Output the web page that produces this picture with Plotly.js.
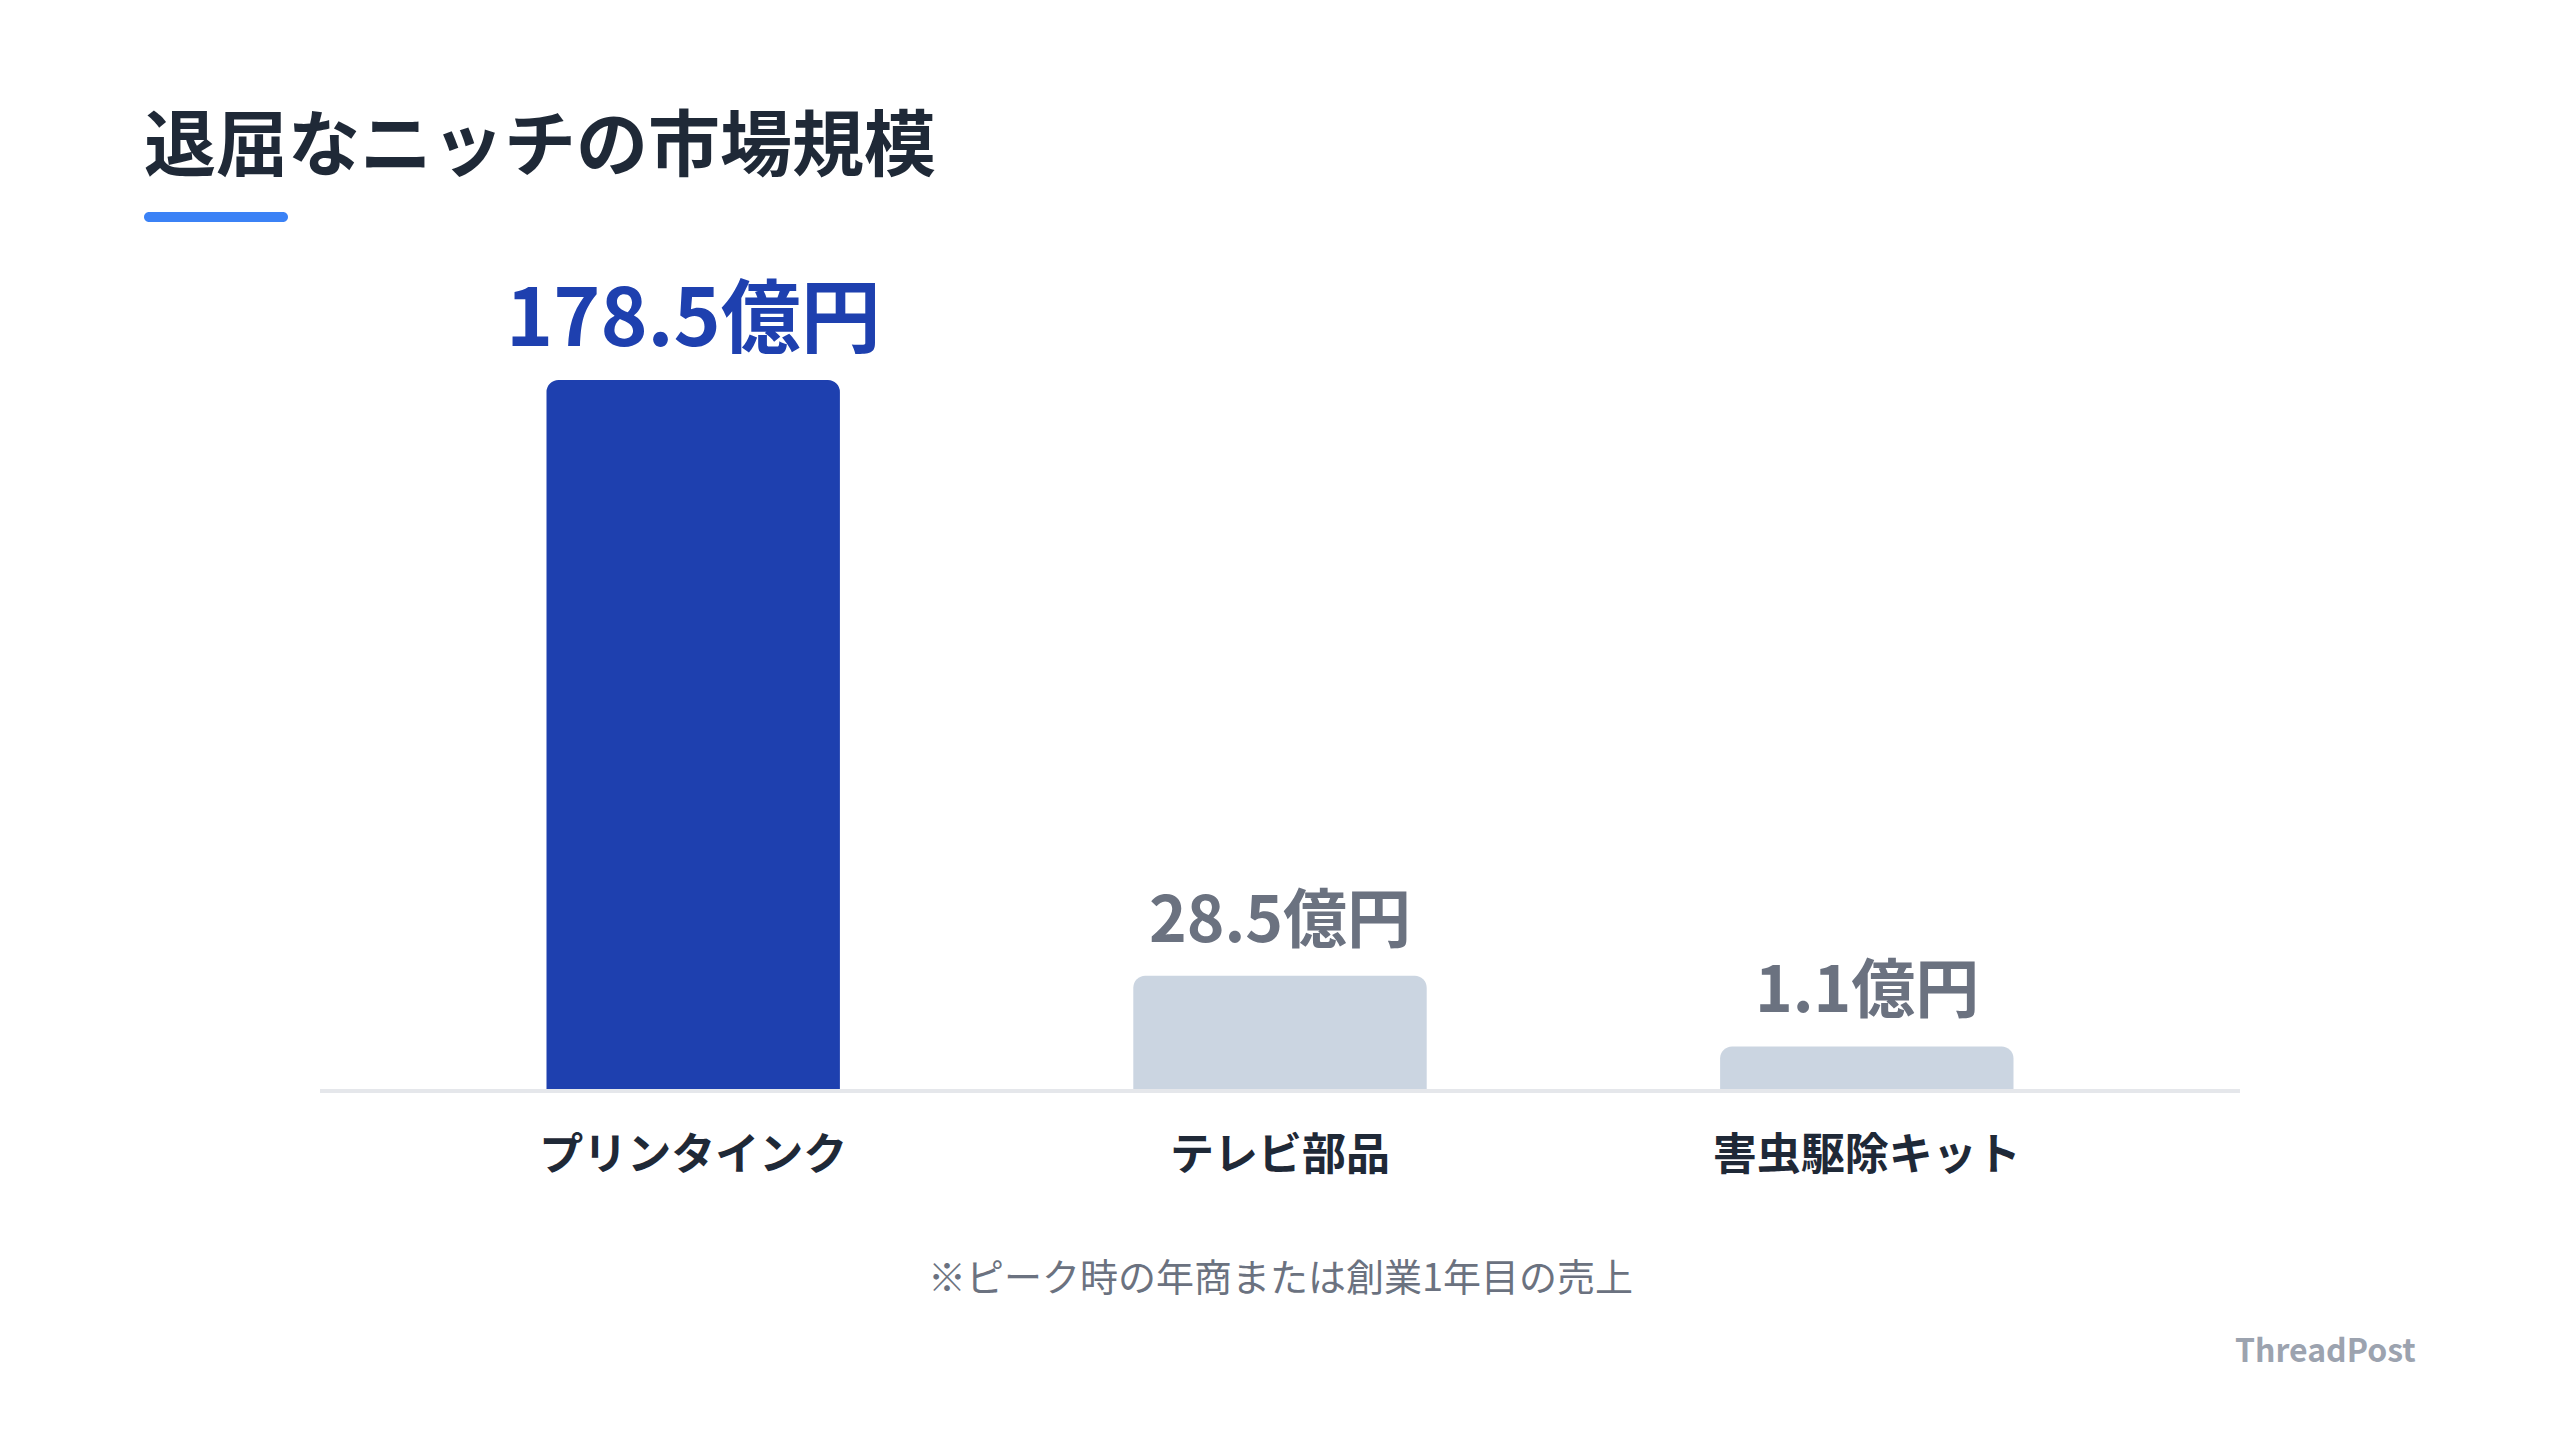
<!DOCTYPE html>
<html>
<head>
<meta charset="utf-8">
<script src="https://cdn.plot.ly/plotly-3.0.1.min.js"></script>
<style>
  html, body { margin: 0; padding: 0; background: #ffffff; }
  #chart { width: 2560px; height: 1440px; }
</style>
</head>
<body>
<div id="chart"></div>
<script>
// ---- data ----
const categories = ["プリンタインク", "テレビ部品", "害虫駆除キット"];
const values = [178.5, 28.5, 1.1];          // 億円
const valueLabels = ["178.5億円", "28.5億円", "1.1億円"];
const titleText = "退屈なニッチの市場規模";
const footnoteText = "※ピーク時の年商または創業1年目の売上";
const brandText = "ThreadPost";

// ---- style ----
const FONT = '"Noto Sans CJK JP", "Noto Sans", sans-serif';
const highlight = "#1e40af";
const muted = "#cbd5e1";
const W = 2560, H = 1440;
const M = {l: 320, r: 320, t: 380, b: 351};
const plotW = W - M.l - M.r, plotH = H - M.t - M.b;

const maxVal = Math.max(...values);
// small bars get a minimum visible height (labels keep true values)
const minVisible = maxVal * 0.06;
const shown = values.map(v => Math.max(v, minVisible));
const barColors = values.map(v => v === maxVal ? highlight : muted);

// helpers to place decorations by pixel position
const px2x = p => (p - M.l) / plotW;
const px2y = p => (H - M.b - p) / plotH;

const trace = {
  type: "bar",
  x: categories,
  y: shown,
  width: 0.5,
  marker: {color: barColors, cornerradius: 12, line: {width: 0}},
  hoverinfo: "skip",
  cliponaxis: false
};

const annotations = categories.map((c, i) => {
  const isMax = values[i] === maxVal;
  return {
    x: c, y: shown[i], xref: "x", yref: "y",
    text: valueLabels[i],
    showarrow: false,
    xanchor: "center", yanchor: "bottom",
    yshift: isMax ? 9 : 14,
    font: {family: FONT, size: isMax ? 80 : 64,
           color: isMax ? highlight : "#6b7280", weight: 700}
  };
});

annotations.push({
  xref: "paper", yref: "paper",
  x: px2x(1280), y: px2y(1274),
  text: footnoteText, showarrow: false,
  xanchor: "center", yanchor: "middle",
  font: {family: FONT, size: 38, color: "#6b7280"}
});
annotations.push({
  xref: "paper", yref: "paper",
  x: px2x(2418), y: px2y(1348),
  text: "<b>" + brandText + "</b>", showarrow: false,
  xanchor: "right", yanchor: "middle",
  font: {family: FONT, size: 32, color: "#9ca3af"}
});

// rounded underline bar below the title
function roundedRectPath(x0, y0, x1, y1, r) {
  const k = 0.5523 * r;
  const P = (x, y) => px2x(x).toFixed(6) + "," + px2y(y).toFixed(6);
  return "M" + P(x0 + r, y0) +
    " L" + P(x1 - r, y0) +
    " C" + P(x1 - r + k, y0) + " " + P(x1, y0 + r - k) + " " + P(x1, y0 + r) +
    " C" + P(x1, y0 + r + k) + " " + P(x1 - r + k, y1) + " " + P(x1 - r, y1) +
    " L" + P(x0 + r, y1) +
    " C" + P(x0 + r - k, y1) + " " + P(x0, y0 + r + k) + " " + P(x0, y0 + r) +
    " C" + P(x0, y0 + r - k) + " " + P(x0 + r - k, y0) + " " + P(x0 + r, y0) + " Z";
}

const layout = {
  width: W, height: H,
  paper_bgcolor: "#ffffff", plot_bgcolor: "#ffffff",
  margin: M,
  showlegend: false,
  font: {family: FONT},
  title: {
    text: "<b>" + titleText + "</b>",
    xref: "container", yref: "container",
    x: 144 / W, xanchor: "left",
    y: 1 - 145 / H, yanchor: "middle",
    font: {family: FONT, size: 72, color: "#1f2937"}
  },
  xaxis: {
    type: "category",
    range: [-0.636, 2.636],
    showgrid: false, zeroline: false,
    showline: true, linecolor: "#e5e7eb", linewidth: 4,
    layer: "below traces",
    ticks: "", ticklabelstandoff: 24,
    tickfont: {family: FONT, size: 44, color: "#1f2937", weight: 700},
    fixedrange: true
  },
  yaxis: {
    range: [0, maxVal],
    visible: false, showgrid: false, zeroline: false,
    fixedrange: true
  },
  bargap: 0.5,
  annotations: annotations,
  shapes: [{
    type: "path", xref: "paper", yref: "paper",
    path: roundedRectPath(144, 212, 288, 222, 5),
    fillcolor: "#3b82f6", line: {width: 0}
  }]
};

Plotly.newPlot("chart", [trace], layout, {displayModeBar: false, staticPlot: true});
</script>
</body>
</html>
